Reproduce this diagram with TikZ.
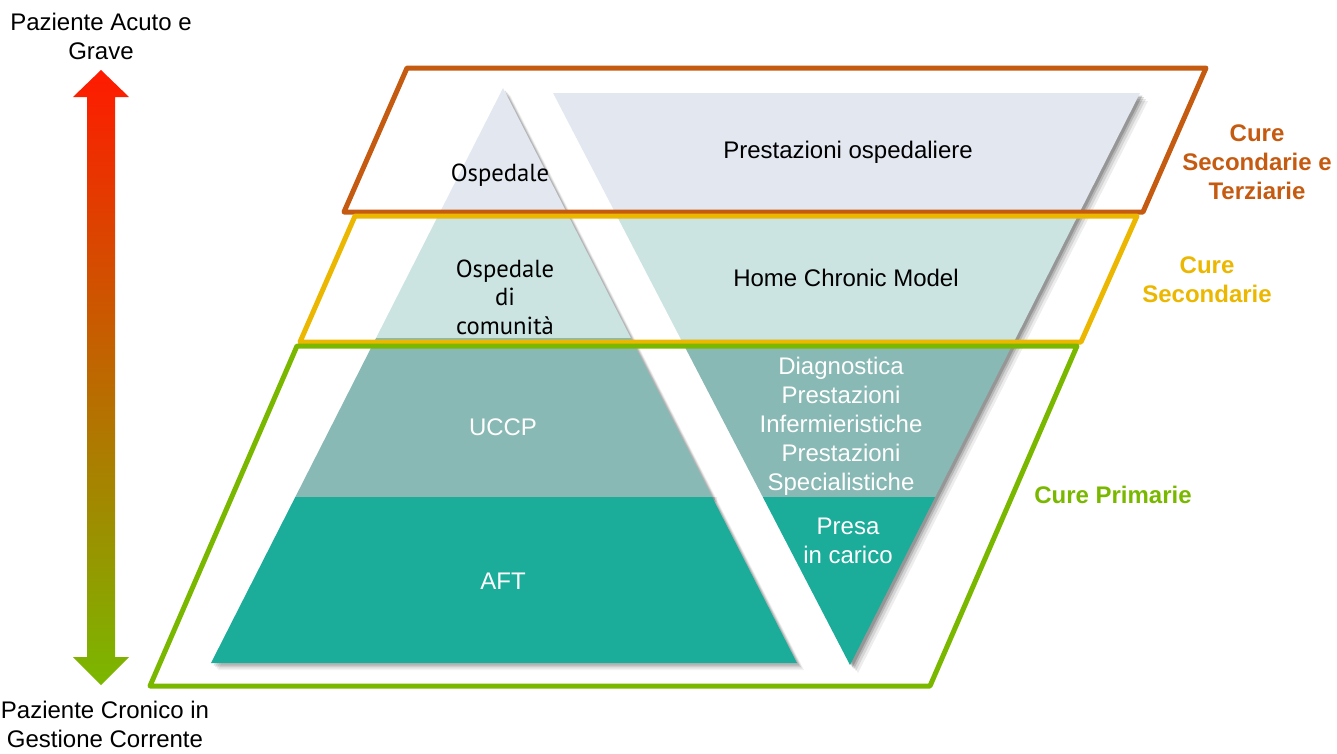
\documentclass[tikz,border=0pt]{standalone}
\usepackage{fontspec}
\setmainfont{Liberation Sans}
\newfontfamily\ptsans{PT Sans}
\usetikzlibrary{calc}
\definecolor{cOrange}{HTML}{C55A11}
\definecolor{cYellow}{HTML}{EBB700}
\definecolor{cGreen}{HTML}{7AB800}
\definecolor{lBlue}{HTML}{E3E8F0}
\definecolor{lTeal}{HTML}{CCE4E1}
\definecolor{mTeal}{HTML}{89B9B4}
\definecolor{dTeal}{HTML}{1BAC9A}
\definecolor{arrRed}{HTML}{FF1A00}
\definecolor{arrMid}{HTML}{DA7000}
\definecolor{arrGreen}{HTML}{7AB800}
\tikzset{
  txt/.style={inner sep=0pt, align=center, font=\fontsize{18}{21.75}\selectfont},
  wtxt/.style={txt, text=white},
  ptxt/.style={inner sep=0pt, align=center, font=\ptsans\fontsize{18.5}{21.4}\selectfont},
  cure/.style={txt, font=\fontsize{18}{21.75}\selectfont\bfseries},
  frame/.style={line width=3.75pt, line join=round},
  shad/.style={fill=black, opacity=#1},
}
\begin{document}
\begin{tikzpicture}[x=0.75pt,y=-0.75pt]
\useasboundingbox (0,0) rectangle (1337,753);

% ---------- left pyramid ----------
\coordinate (A) at (503,88);
\coordinate (BL) at (211,663);
\coordinate (BR) at (797,663);
\coordinate (L1l) at ($(A)!0.2174!(BL)$); \coordinate (L1r) at ($(A)!0.2174!(BR)$);
\coordinate (L2l) at ($(A)!0.4348!(BL)$); \coordinate (L2r) at ($(A)!0.4348!(BR)$);
\coordinate (L3l) at ($(A)!0.7113!(BL)$); \coordinate (L3r) at ($(A)!0.7113!(BR)$);

% ---------- right inverted triangle ----------
\coordinate (TL) at (553,93);
\coordinate (TR) at (1140,93);
\coordinate (V) at (850,665);
\coordinate (R1l) at ($(TL)!0.2133!(V)$); \coordinate (R1r) at ($(TR)!0.2133!(V)$);
\coordinate (R2l) at ($(TL)!0.4318!(V)$); \coordinate (R2r) at ($(TR)!0.4318!(V)$);
\coordinate (R3l) at ($(TL)!0.7063!(V)$); \coordinate (R3r) at ($(TR)!0.7063!(V)$);

% shadows
\foreach \d/\o in {7/0.05,5.5/0.07,4/0.09,2.5/0.12}{
  \fill[shad=\o] ([shift={(\d,\d)}]A) -- ([shift={(\d,\d)}]BR) -- ([shift={(\d,\d)}]BL) -- cycle;
}
\foreach \d/\o in {8/0.07,6/0.1,4/0.14,2.5/0.18}{
  \fill[shad=\o] ([shift={(\d,\d)}]TL) -- ([shift={(\d,\d)}]TR) -- ([shift={(\d,\d)}]V) -- cycle;
}
\foreach \d/\o in {5/0.08,3/0.12}{
  \fill[shad=\o] ([shift={(0,\d)}]L3l) -- ([shift={(\d,\d)}]L3r) -- ([shift={(\d,0)}]L3r) -- (L3r) -- cycle;
}

% fills left
\fill[lBlue] (A) -- (L1r) -- (L1l) -- cycle;
\fill[lTeal] (L1l) -- (L1r) -- (L2r) -- (L2l) -- cycle;
\fill[mTeal] (L2l) -- (L2r) -- (L3r) -- (L3l) -- cycle;
\fill[dTeal] (L3l) -- (L3r) -- (BR) -- (BL) -- cycle;
% fills right
\fill[lBlue] (TL) -- (TR) -- (R1r) -- (R1l) -- cycle;
\fill[lTeal] (R1l) -- (R1r) -- (R2r) -- (R2l) -- cycle;
\fill[mTeal] (R2l) -- (R2r) -- (R3r) -- (R3l) -- cycle;
\fill[dTeal] (R3l) -- (R3r) -- (V) -- cycle;

% ---------- level frames ----------
\draw[frame, cOrange] (407,68) -- (1206,68) -- (1143,212) -- (344,212) -- cycle;
\draw[frame, cYellow] (355,216) -- (1137,216) -- (1081,342) -- (300,342) -- cycle;
\draw[frame, cGreen] (297,346) -- (1077,346) -- (930,686) -- (150,686) -- cycle;

% ---------- texts in shapes ----------
\node[ptxt] (osp) at (500,175) {Ospedale};
\node[ptxt] (ospcom) at (505,297) {Ospedale\\di\\comunità};
\node[txt] (prest) at (848,152) {Prestazioni ospedaliere};
\node[txt] (home) at (846,278) {Home Chronic Model};
\node[wtxt] (uccp) at (503,427) {UCCP};
\node[wtxt] (diag) at (841,426) {Diagnostica\\Prestazioni\\Infermieristiche\\Prestazioni\\Specialistiche};
\node[wtxt] (presa) at (848,541) {Presa\\in carico};
\node[wtxt] (aft) at (503,581) {AFT};

% ---------- level labels ----------
\node[cure, text=cOrange] (c3) at (1257,162) {Cure\\Secondarie e\\Terziarie};
\node[cure, text=cYellow] (c2) at (1207,280) {Cure\\Secondarie};
\node[cure, text=cGreen] (c1) at (1113,495) {Cure Primarie};

% ---------- patient axis ----------
\node[txt] (acuto) at (101,36) {Paziente Acuto e\\Grave};
\node[txt] (cronico) at (105,724) {Paziente Cronico in\\Gestione Corrente};
\coordinate (tipT) at (101,70);
\coordinate (tipB) at (101,685);
\shade[top color=arrRed, middle color=arrMid, bottom color=arrGreen]
  (tipT) -- ($(tipT)+(28,27)$) -- ($(tipT)+(14,27)$) -- ($(tipB)+(14,-28)$) -- ($(tipB)+(28,-28)$)
  -- (tipB) -- ($(tipB)+(-28,-28)$) -- ($(tipB)+(-14,-28)$) -- ($(tipT)+(-14,27)$) -- ($(tipT)+(-28,27)$) -- cycle;
\end{tikzpicture}
\end{document}
